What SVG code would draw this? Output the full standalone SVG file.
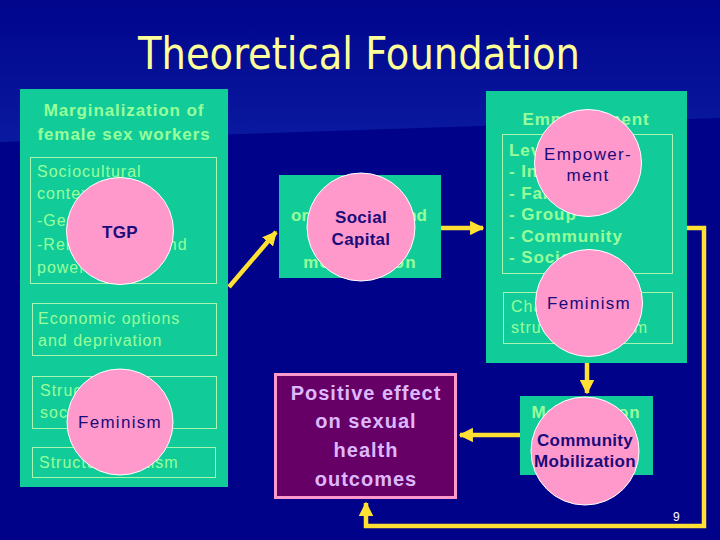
<svg xmlns="http://www.w3.org/2000/svg" width="720" height="540" viewBox="0 0 720 540">
<defs>
<linearGradient id="bandGrad" x1="0" y1="0" x2="0" y2="1">
<stop offset="0" stop-color="#00058C"/>
<stop offset="1" stop-color="#0A1AA0"/>
</linearGradient>
<marker id="arrow" viewBox="0 0 10 10" refX="9" refY="5" markerWidth="3.2" markerHeight="3.2" orient="auto" markerUnits="strokeWidth">
<path d="M0,0 L10,5 L0,10 Z" fill="#FFE033"/>
</marker>
<style>
.panel{fill:#11CC99}
.sub{fill:none;stroke:#A8F5B0;stroke-width:1}
.gt{font-family:"Liberation Sans",Arial,sans-serif;fill:#99FF99;font-size:16px;letter-spacing:1px}
.gb{font-family:"Liberation Sans",Arial,sans-serif;fill:#99FF99;font-size:17px;font-weight:bold;letter-spacing:0.9px}
.circ{fill:#FF99CC;stroke:#FFFFFF;stroke-width:1}
.ct{font-family:"Liberation Sans",Arial,sans-serif;fill:#1B0B7A;font-size:17px;text-anchor:middle}
.ctb{font-weight:bold;letter-spacing:0.3px}
.ctr{letter-spacing:1.3px}
.conn{fill:none;stroke:#FFE033;stroke-width:4.5}
.pt{font-family:"Liberation Sans",Arial,sans-serif;fill:#DDB8FF;font-size:20px;font-weight:bold;letter-spacing:1px;text-anchor:middle}
</style>
</defs>
<rect x="0" y="0" width="720" height="540" fill="#00028A"/>
<polygon points="0,0 720,0 720,118 0,142" fill="url(#bandGrad)"/>
<text x="359" y="69" font-family="'DejaVu Sans Condensed','DejaVu Sans',sans-serif" font-size="45" fill="#FFFF99" text-anchor="middle" textLength="442" lengthAdjust="spacingAndGlyphs">Theoretical Foundation</text>

<g id="connectors">
<line class="conn" x1="229" y1="287" x2="276" y2="232" marker-end="url(#arrow)"/>
<line class="conn" x1="441" y1="228" x2="483" y2="228" marker-end="url(#arrow)"/>
<line class="conn" x1="587" y1="363" x2="587" y2="393" marker-end="url(#arrow)"/>
<line class="conn" x1="520" y1="435" x2="460" y2="435" marker-end="url(#arrow)"/>
<polyline class="conn" points="687,228 704,228 704,526 366,526 366,503" marker-end="url(#arrow)"/>
</g>

<g id="marginalization">
<rect class="panel" x="20" y="89" width="208" height="398"/>
<text class="gb" x="124" y="116" text-anchor="middle">Marginalization of</text>
<text class="gb" x="124" y="140" text-anchor="middle">female sex workers</text>
<rect class="sub" x="30.5" y="157.5" width="186" height="126"/>
<text class="gt" x="37" y="177">Sociocultural</text>
<text class="gt" x="37" y="199">context</text>
<text class="gt" x="37" y="226">-Gender</text>
<text class="gt" x="37" y="250">-Relationships and</text>
<text class="gt" x="37" y="273">power</text>
<rect class="sub" x="32.5" y="303.5" width="184" height="52"/>
<text class="gt" x="38" y="324">Economic options</text>
<text class="gt" x="38" y="346">and deprivation</text>
<rect class="sub" x="32.5" y="376.5" width="184" height="52"/>
<text class="gt" x="40" y="396">Structural and</text>
<text class="gt" x="40" y="418">social inequities</text>
<rect class="sub" x="32.5" y="447.5" width="183" height="30"/>
<text class="gt" x="39" y="468">Structural sexism</text>
</g>

<g id="tgp">
<circle class="circ" cx="120" cy="231" r="53.5"/>
<text class="ct ctb" x="120" y="238">TGP</text>
</g>

<g id="feminism-left">
<circle class="circ" cx="120" cy="422" r="53"/>
<text class="ct ctr" x="120" y="428">Feminism</text>
</g>

<g id="social-capital-box">
<rect class="panel" x="279" y="175" width="162" height="103"/>
<text class="gb" x="359" y="221" text-anchor="middle" style="letter-spacing:0">organization and</text>
<text class="gb" x="360" y="268" text-anchor="middle" style="letter-spacing:1.2px">mobilization</text>
</g>

<g id="social-capital">
<circle class="circ" cx="361" cy="227" r="54"/>
<text class="ct ctb" x="361" y="223">Social</text>
<text class="ct ctb" x="361" y="245">Capital</text>
</g>

<g id="empowerment-box">
<rect class="panel" x="486" y="91" width="201" height="272"/>
<text class="gb" x="586" y="125" text-anchor="middle">Empowerment</text>
<rect class="sub" x="502.5" y="134.5" width="170" height="139"/>
<text class="gb" x="509" y="156">Levels</text>
<text class="gb" x="509" y="177">- Individual</text>
<text class="gb" x="509" y="199">- Family</text>
<text class="gb" x="509" y="220">- Group</text>
<text class="gb" x="509" y="242">- Community</text>
<text class="gb" x="509" y="263">- Society</text>
<rect class="sub" x="503.5" y="292.5" width="169" height="51"/>
<text class="gt" x="511" y="312">Challenging</text>
<text class="gt" x="511" y="333">structural sexism</text>
</g>

<g id="empowerment">
<circle class="circ" cx="588" cy="163" r="53.5"/>
<text class="ct ctr" x="588" y="160">Empower-</text>
<text class="ct ctr" x="588" y="181">ment</text>
</g>

<g id="feminism-right">
<circle class="circ" cx="589" cy="303" r="53.5"/>
<text class="ct ctr" x="589" y="309">Feminism</text>
</g>

<g id="mobilization-box">
<rect class="panel" x="520" y="396" width="133" height="79"/>
<text class="gb" x="586" y="418" text-anchor="middle">Mobilization</text>
</g>

<g id="community-mobilization">
<circle class="circ" cx="585" cy="451" r="54"/>
<text class="ct ctb" x="585" y="446">Community</text>
<text class="ct ctb" x="585" y="467">Mobilization</text>
</g>

<g id="outcomes">
<rect x="275.5" y="374.5" width="180" height="123" fill="#660066" stroke="#FF99CC" stroke-width="3"/>
<text class="pt" x="366" y="400">Positive effect</text>
<text class="pt" x="366" y="428">on sexual</text>
<text class="pt" x="366" y="457">health</text>
<text class="pt" x="366" y="486">outcomes</text>
</g>

<text x="673" y="521" font-family="'Liberation Sans',Arial,sans-serif" font-size="12" fill="#FFFFFF">9</text>
</svg>
